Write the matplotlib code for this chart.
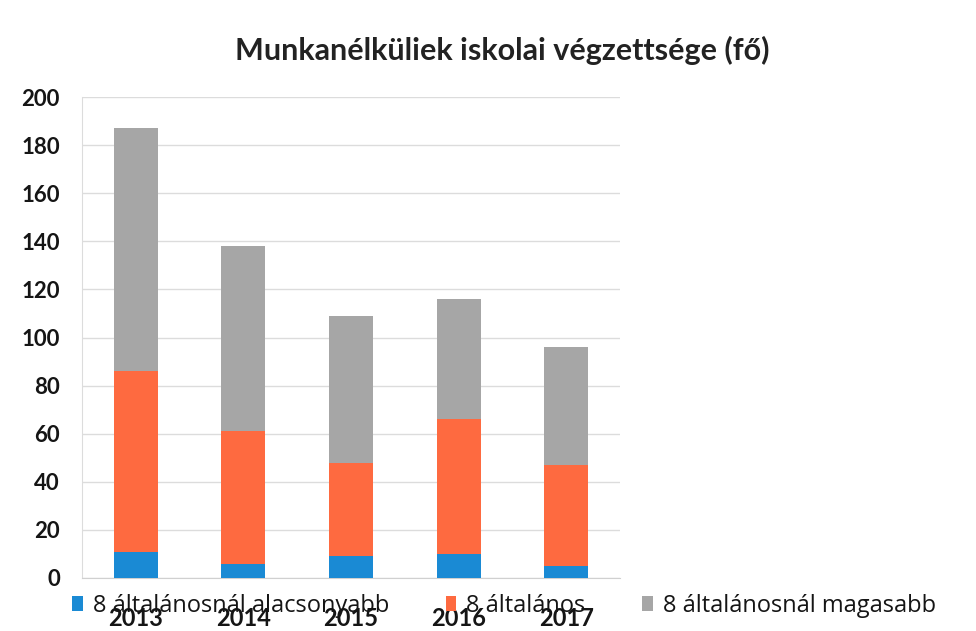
import matplotlib
matplotlib.use("Agg")
import matplotlib.pyplot as plt
from matplotlib.patches import Patch

plt.rcParams['font.family'] = ['Lato', 'DejaVu Sans']

years = ['2013', '2014', '2015', '2016', '2017']
alacsonyabb = [11, 6, 9, 10, 5]
altalanos = [75, 55, 39, 56, 42]
magasabb = [101, 77, 61, 50, 49]
series_names = ['8 általánosnál alacsonyabb', '8 általános', '8 általánosnál magasabb']
colors = ['#1a8ad4', '#fe6a40', '#a6a6a6']

fig = plt.figure(figsize=(9.76, 6.31), dpi=100)
ax = fig.add_axes([82 / 976, 1 - 578 / 631, 538 / 976, 481 / 631])

x = range(len(years))
w = 0.41
bottom2 = [a + b for a, b in zip(alacsonyabb, altalanos)]
ax.bar(x, alacsonyabb, w, color=colors[0], zorder=3)
ax.bar(x, altalanos, w, bottom=alacsonyabb, color=colors[1], zorder=3)
ax.bar(x, magasabb, w, bottom=bottom2, color=colors[2], zorder=3)

ax.set_xlim(-0.5, 4.5)
ax.set_ylim(0, 200)
ax.set_yticks(range(0, 201, 20))
ax.set_xticks(list(x))
ax.set_xticklabels(years)
ax.grid(axis='y', color='#dcdcdc', linewidth=1, zorder=0)
for s in ['top', 'right']:
    ax.spines[s].set_visible(False)
ax.spines['left'].set_color('#dcdcdc')
ax.spines['bottom'].set_color('#d0d0d0')
ax.tick_params(axis='y', length=0, pad=16, labelsize=16, labelcolor='#151515')
ax.tick_params(axis='x', length=0, pad=21, labelsize=17, labelcolor='#151515')
for lbl in ax.get_yticklabels() + ax.get_xticklabels():
    lbl.set_fontweight('bold')

fig.text(502 / 976, 1 - 50 / 631, 'Munkanélküliek iskolai végzettsége (fő)',
         ha='center', va='center', fontsize=22, fontweight='bold', color='#222222')

handles = [Patch(facecolor=c) for c in colors]
fig.legend(handles, series_names, loc='center left', bbox_to_anchor=(72 / 976, 1 - 606 / 631),
           ncol=3, frameon=False, prop={'family': 'Open Sans', 'size': 17},
           handlelength=0.45, handleheight=0.6, handletextpad=0.42, columnspacing=2.4,
           borderpad=0, borderaxespad=0, labelcolor='#151515')

fig.savefig('out.png', dpi=100)
